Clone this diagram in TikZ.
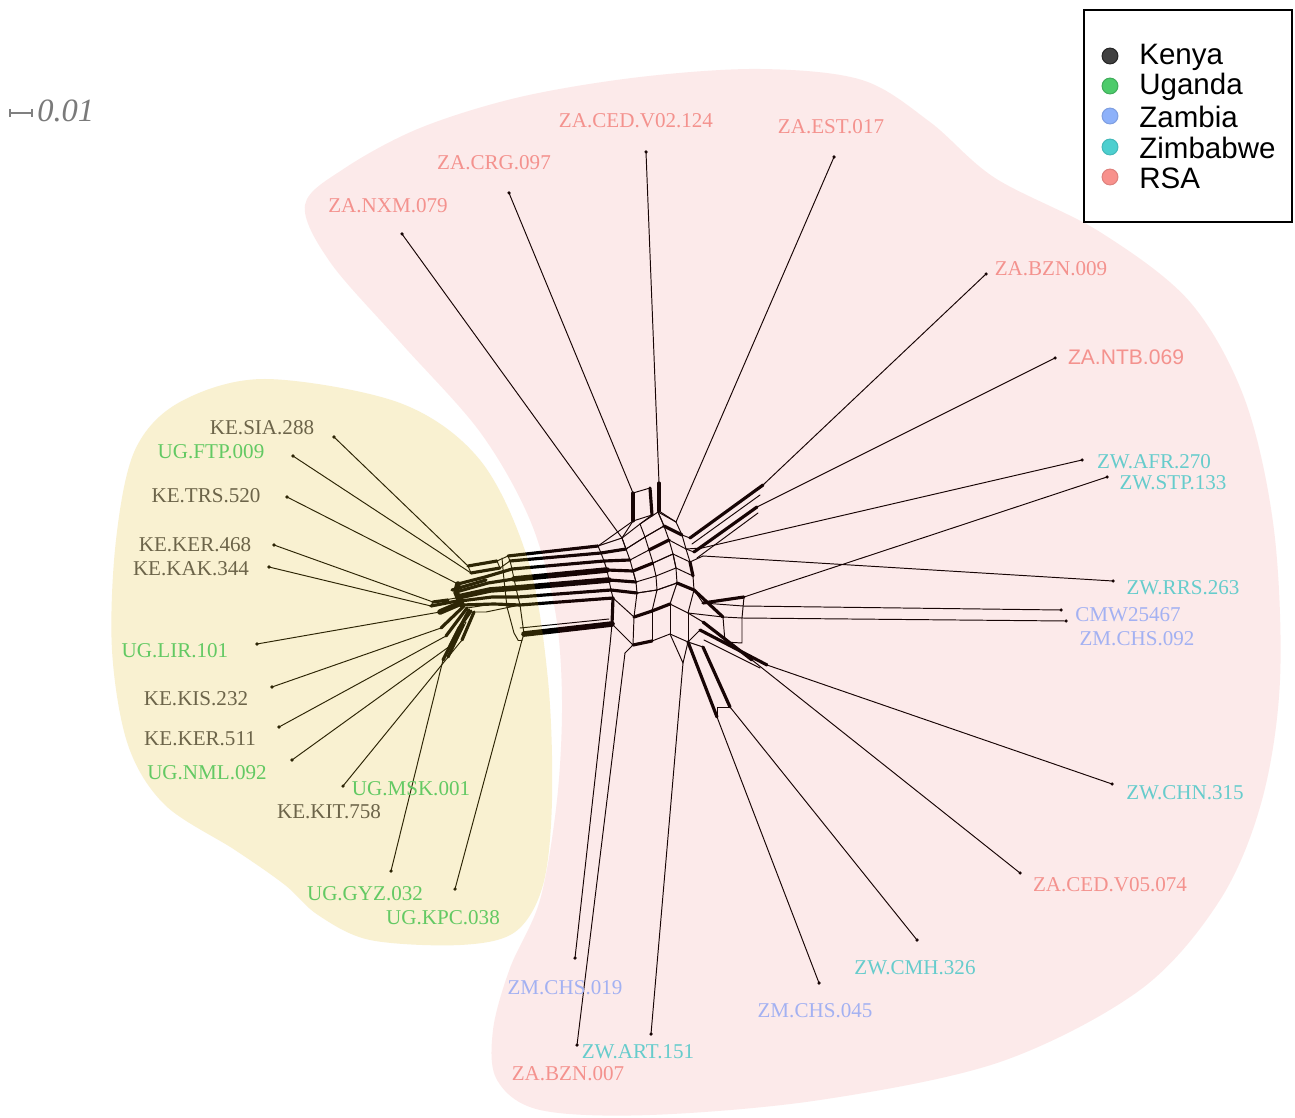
\documentclass[tikz,border=0pt]{standalone}
\usepackage{fontspec}
\setmainfont{Liberation Serif}
\setsansfont{Liberation Sans}
\definecolor{keC}{HTML}{6C6449}
\definecolor{ugC}{HTML}{63C963}
\definecolor{zmC}{HTML}{A3B1F2}
\definecolor{zwC}{HTML}{66CCCC}
\definecolor{zaC}{HTML}{F4928E}
\definecolor{yelO}{RGB}{225,185,25}
\definecolor{pnkO}{RGB}{235,55,55}
\definecolor{lgKE}{HTML}{404040}
\definecolor{lgUG}{HTML}{4DCB6B}
\definecolor{lgZM}{HTML}{8DB1FA}
\definecolor{lgZW}{HTML}{4DCFCF}
\definecolor{lgZA}{HTML}{F8918C}
\tikzset{
  net/.style={line width=0.55pt, line cap=round, line join=round},
  thk/.style={line width=1.8pt},
  vthk/.style={line width=3.2pt},
  lab/.style={font=\fontsize{12}{12}\selectfont, inner sep=0pt},
  legtxt/.style={font=\sffamily\fontsize{16.8}{16.8}\selectfont, inner sep=0pt, anchor=west},
  legdot/.style={circle, minimum size=9pt, inner sep=0pt, line width=0.6pt},
}
\begin{document}
\begin{tikzpicture}[x=0.02cm,y=-0.02cm]
\useasboundingbox (0,0) rectangle (1295,1118);
\fill[white] (0,0) rectangle (1295,1118);

% ---------- leaf dots ----------
\foreach \n/\x/\y in {l1/334/437, l2/293/456, l3/287/497, l4/274/545, l5/269/567,
  l6/257/644, l7/272/687, l8/279/727, l9/292/760, l10/343/786, l11/391/871, l12/455/889,
  r1/402/234, r2/509/193, r3/646/152, r4/834/157, r5/986/274, r6/1055/358,
  r7/1082/460, r8/1107/477, r9/1113/581, r10/1061/610, r11/1066/621, r12/1112/784,
  r13/1020/873, r14/917/940, r15/819/983, r16/651/1034, r17/577/1045, r18/575/958}
  {\coordinate (\n) at (\x,\y); \fill (\n) circle (1pt);}

% ---------- coordinates ----------
\foreach \n/\x/\y in {la1/468/566, la2/471/573, la3/458/584, la4/433/602, la5/431/606,
  la6/440/612, la7/441/628, la8/446/636, la9/450/646, la10/462/640, la11/443/660, la12/522/640}
  {\coordinate (\n) at (\x,\y);}
\foreach \n/\x/\y in {L1/508/556, L2/510/561, L3/512/569, L4/514/579, L5/516/588,
  L6/518/597, L7/520/605, L8/524/634}
  {\coordinate (\n) at (\x,\y);}
\foreach \n/\x/\y in {A1/598/546, A2/601/553, A3/604/561, A4/607/570, A5/609/580, A6/611/590, A7/613/598, A8/612/624,
  B1/622/538, B2/626/549, B3/630/560, B4/633/571, B5/636/582, B6/637/593, B7/634/617, B8/633/645,
  C1/640/524, C2/645/537, C3/649/550, C4/653/563, C5/656/576, C6/657/590, C7/652/611, C8/652/641,
  D1/658/512, D2/664/526, D3/669/540, D4/673/554, D5/676/568, D6/677/583, D7/670/604, D8/670/634,
  E1/676/522, E2/682/535, E3/686/549, E4/690/562, E5/693/576, E6/694/590, E7/688/613, E8/688/642}
  {\coordinate (\n) at (\x,\y);}
\foreach \n/\x/\y in {T1/633/493, T2/650/488, T3/652/515, T4/633/521, T5/659/483, T6/659/511,
  R1/690/538, R2/763/485, R3/694/552, R4/757/507, R5/702/548, R6/703/556,
  S1/703/603, S2/743/606, S4/723/617, S5/742/618, S6/742/643, S7/725/642, S8/744/597,
  U1/700/630, U2/767/665, U3/703/622, U4/752/660,
  V2/717/717, V3/703/647, V4/730/707, W1/683/663, X1/610/645, X2/625/653}
  {\coordinate (\n) at (\x,\y);}

\begin{scope}[net]
% pendant edges, left
\foreach \i in {1,...,12} {\draw (l\i) -- (la\i);}
% pendant edges, right
\draw (r1) -- (B1);
\draw (r2) -- (T1);
\draw (r3) -- (T5);
\draw (r4) -- (E1);
\draw (r5) -- (R2);
\draw (r6) -- (R4);
\draw (r7) -- (R5);
\draw (r8) -- (S8);
\draw (r9) -- (R6);
\draw (r10) -- (S2);
\draw (r11) -- (S5);
\draw (r12) -- (U2);
\draw (r13) -- (U4);
\draw (r14) -- (V4);
\draw (r15) -- (V2);
\draw (r16) -- (W1);
\draw (r17) -- (X2);
\draw (r18) -- (X1);

% left cluster internal structure
\draw (la1) -- (la2) -- (500,568) -- (497,561) -- cycle;
\draw (497,561) -- (L1); \draw (500,568) -- (L2);
\draw[thk] (la2) -- (500,568);
\draw[thk] (la1) -- (497,561);
\draw[thk] (la3) -- (485,577) -- (L3);
\draw[thk] (456,592) -- (488,583) -- (L4);
\draw[vthk] (458,597) -- (490,590) -- (L5);
\draw[thk] (460,601) -- (492,597) -- (L6);
\draw[thk] (462,605) -- (494,604) -- (L7);
\draw[thk] (452,590) -- (486,580);
\draw[vthk] (la3) -- (456,592) -- (458,597) -- (460,601) -- (462,605);
\draw (la4) -- (456,598); \draw (la4) -- (la5);
\draw[thk] (la4) -- (448,600);
\draw[thk] (la5) -- (457,601);
\draw[vthk] (la6) -- (461,603);
\draw[thk] (la7) -- (464,606);
\draw[thk] (la8) -- (467,608);
\draw[thk] (la9) -- (469,610);
\draw[thk] (la10) -- (474,612);
\draw[thk] (la11) -- (459,628) -- (471,611);
\draw[thk] (448,657) -- (463,625);
\draw (452,650) -- (466,622);
\draw (467,608) -- (480,606) -- (494,604);
\draw (472,612) -- (486,612) -- (L7);
\draw (L1) -- (L2) -- (L3) -- (L4) -- (L5) -- (L6) -- (L7) -- (L8);
\draw (502,558) -- (504,580) -- (507,607) -- (514,633) -- (518,640);
\draw (L8) -- (la12);
\draw (la12) -- (518,640);
\draw (L7) -- (507,607);

% long bands between clusters
\draw[thk] (L1) -- (A1);
\draw[thk] (L2) -- (A2);
\draw[thk] (L3) -- (A3);
\draw[vthk] (L4) -- (A4);
\draw[vthk] (L5) -- (A5);
\draw[thk] (L6) -- (A6);
\draw[thk] (L7) -- (A7);
\draw[vthk] (L8) -- (A8);
\draw (520,628) -- (609,619);

% hub mesh
\foreach \r in {1,...,8} {\draw (A\r) -- (B\r) -- (C\r) -- (D\r) -- (E\r);}
\foreach \r [count=\s from 2] in {1,...,7} {
  \draw (A\r) -- (A\s); \draw (B\r) -- (B\s); \draw (C\r) -- (C\s);
  \draw (D\r) -- (D\s); \draw (E\r) -- (E\s);}
\begin{scope}[shift={(4,3)}]
\foreach \r in {2,4,6} {\draw (A\r) -- (B\r) -- (C\r) -- (D\r);}
\foreach \r [count=\s from 2] in {1,3,5} {
  \draw (B\r) -- (B\s); \draw (D\r) -- (D\s);}
\end{scope}
\draw[thk] (A2) -- (B2); \draw[thk] (A3) -- (B3); \draw[thk] (A4) -- (B4) -- (C4); \draw[thk] (A6) -- (B6);
\draw[thk] (A5) -- (B5);
\draw[thk] (B7) -- (C7); \draw[thk] (B8) -- (C8); \draw[thk] (A8) -- (A7);
\draw[thk] (D2) -- (E2); \draw[thk] (D6) -- (E6); \draw[thk] (C7) -- (D7);
\draw[thk] (C3) -- (D3); \draw[thk] (E4) -- (E5);
% top box
\draw (T1) -- (T2) -- (T3) -- (T4) -- cycle;
\draw[thk] (T1) -- (T4); \draw[thk] (T2) -- (T3); \draw[thk] (T5) -- (T6);
\draw (T4) -- (B1); \draw (T4) -- (A1); \draw (T3) -- (C1); \draw (T6) -- (D1); \draw (T6) -- (E1);
% upper right bands
\draw (E2) -- (R1); \draw (E3) -- (R3);
\draw[thk] (R1) -- (R2); \draw (692,544) -- (760,495);
\draw[thk] (R3) -- (R4); \draw (697,558) -- (758,513);
\draw (E3) -- (R5); \draw (E4) -- (R6);
% lower right
\draw (E6) -- (S1); \draw[thk] (S1) -- (S8); \draw (S1) -- (S2);
\draw (E7) -- (S4); \draw[thk] (E6) -- (S4);
\draw (S4) -- (S5) -- (S6) -- (S7) -- cycle;
\draw (S8) -- (S5);
\draw (E7) -- (U3); \draw (E8) -- (U1);
\draw[thk] (U1) -- (U2); \draw[thk] (U3) -- (U4); \draw (S7) -- (U1);
\draw (704,640) -- (760,668);
\draw[thk] (E8) -- (V2); \draw[thk] (V3) -- (V4); \draw (E8) -- (V3);
\draw (V2) -- (717,707) -- (V4);
\draw (E8) -- (W1); \draw (D8) -- (W1);
\draw (A8) -- (X1); \draw (B8) -- (X2);
\end{scope}

% ---------- group overlays ----------
\fill[yelO, fill opacity=0.2] plot[smooth cycle, tension=0.55] coordinates {
  (265,379) (400,403) (480,460) (528,560) (548,680) (552,800) (543,885) (515,932)
  (460,945) (370,940) (318,915) (285,885) (235,850) (165,805) (128,745) (112,650)
  (116,540) (135,450) (180,402)};
\fill[pnkO, fill opacity=0.1] plot[smooth cycle, tension=0.55] coordinates {
  (305,205) (345,168) (420,128) (520,97) (640,77) (760,69) (862,80) (930,122)
  (995,178) (1100,232) (1190,302) (1245,400) (1274,530) (1280,680) (1262,800)
  (1220,900) (1140,990) (1000,1062) (820,1100) (650,1115) (540,1110) (497,1080)
  (493,1030) (510,968) (540,900) (557,800) (562,700) (555,610) (530,520)
  (480,432) (400,342) (330,262)};

% ---------- labels ----------
\node[lab, keC] (tKESIA) at (262,428) {KE.SIA.288};
\node[lab, ugC] (tUGFTP) at (211,452) {UG.FTP.009};
\node[lab, keC] (tKETRS) at (206,496) {KE.TRS.520};
\node[lab, keC] (tKEKER4) at (195,545) {KE.KER.468};
\node[lab, keC] (tKEKAK) at (191,569) {KE.KAK.344};
\node[lab, ugC] (tUGLIR) at (175,651) {UG.LIR.101};
\node[lab, keC] (tKEKIS) at (196,699) {KE.KIS.232};
\node[lab, keC] (tKEKER5) at (200,739) {KE.KER.511};
\node[lab, ugC] (tUGNML) at (207,773) {UG.NML.092};
\node[lab, ugC] (tUGMSK) at (411,789) {UG.MSK.001};
\node[lab, keC] (tKEKIT) at (329,812) {KE.KIT.758};
\node[lab, ugC] (tUGGYZ) at (365,894) {UG.GYZ.032};
\node[lab, ugC] (tUGKPC) at (443,918) {UG.KPC.038};
\node[lab, zaC] (tZANXM) at (388,206) {ZA.NXM.079};
\node[lab, zaC] (tZACRG) at (494,163) {ZA.CRG.097};
\node[lab, zaC] (tZACED2) at (636,121) {ZA.CED.V02.124};
\node[lab, zaC] (tZAEST) at (831,127) {ZA.EST.017};
\node[lab, zaC] (tZABZN9) at (1051,269) {ZA.BZN.009};
\node[lab, zaC, font=\sffamily\fontsize{12}{12}\selectfont] (tZANTB) at (1126,357) {ZA.NTB.069};
\node[lab, zwC] (tZWAFR) at (1154,462) {ZW.AFR.270};
\node[lab, zwC] (tZWSTP) at (1173,483) {ZW.STP.133};
\node[lab, zwC] (tZWRRS) at (1183,588) {ZW.RRS.263};
\node[lab, zmC] (tCMW) at (1128,615) {CMW25467};
\node[lab, zmC] (tZMCHS92) at (1137,639) {ZM.CHS.092};
\node[lab, zwC] (tZWCHN) at (1185,793) {ZW.CHN.315};
\node[lab, zaC] (tZACED5) at (1110,885) {ZA.CED.V05.074};
\node[lab, zwC] (tZWCMH) at (915,968) {ZW.CMH.326};
\node[lab, zmC] (tZMCHS45) at (815,1011) {ZM.CHS.045};
\node[lab, zwC] (tZWART) at (638,1052) {ZW.ART.151};
\node[lab, zaC] (tZABZN7) at (568,1074) {ZA.BZN.007};
\node[lab, zmC] (tZMCHS19) at (565,988) {ZM.CHS.019};

% ---------- scale bar ----------
\coordinate (sb1) at (10,113); \coordinate (sb2) at (32,113);
\draw[gray, line width=0.7pt] (sb1) -- (sb2);
\draw[gray, line width=0.7pt] (10,109) -- (10,117) (32,109) -- (32,117);
\node[inner sep=0pt, anchor=west, text=black!52, font=\itshape\fontsize{18.5}{18.5}\selectfont] (scl) at (37,111) {0.01};

% ---------- legend ----------
\draw[line width=1pt] (1084,10) rectangle (1292,222);
\node[legdot, fill=lgKE, draw=black!85] (dKE) at (1110,56) {};
\node[legdot, fill=lgUG, draw=lgUG!85!black] (dUG) at (1110,86) {};
\node[legdot, fill=lgZM, draw=lgZM!90!black] (dZM) at (1110,116) {};
\node[legdot, fill=lgZW, draw=lgZW!90!black] (dZW) at (1110,147) {};
\node[legdot, fill=lgZA, draw=lgZA!90!black] (dZA) at (1110,177) {};
\node[legtxt] (tKE) at (1139,57) {Kenya};
\node[legtxt] (tUG) at (1139,87) {Uganda};
\node[legtxt] (tZM) at (1139,117) {Zambia};
\node[legtxt] (tZW) at (1139,148) {Zimbabwe};
\node[legtxt] (tZA) at (1139,178) {RSA};
\end{tikzpicture}
\end{document}
